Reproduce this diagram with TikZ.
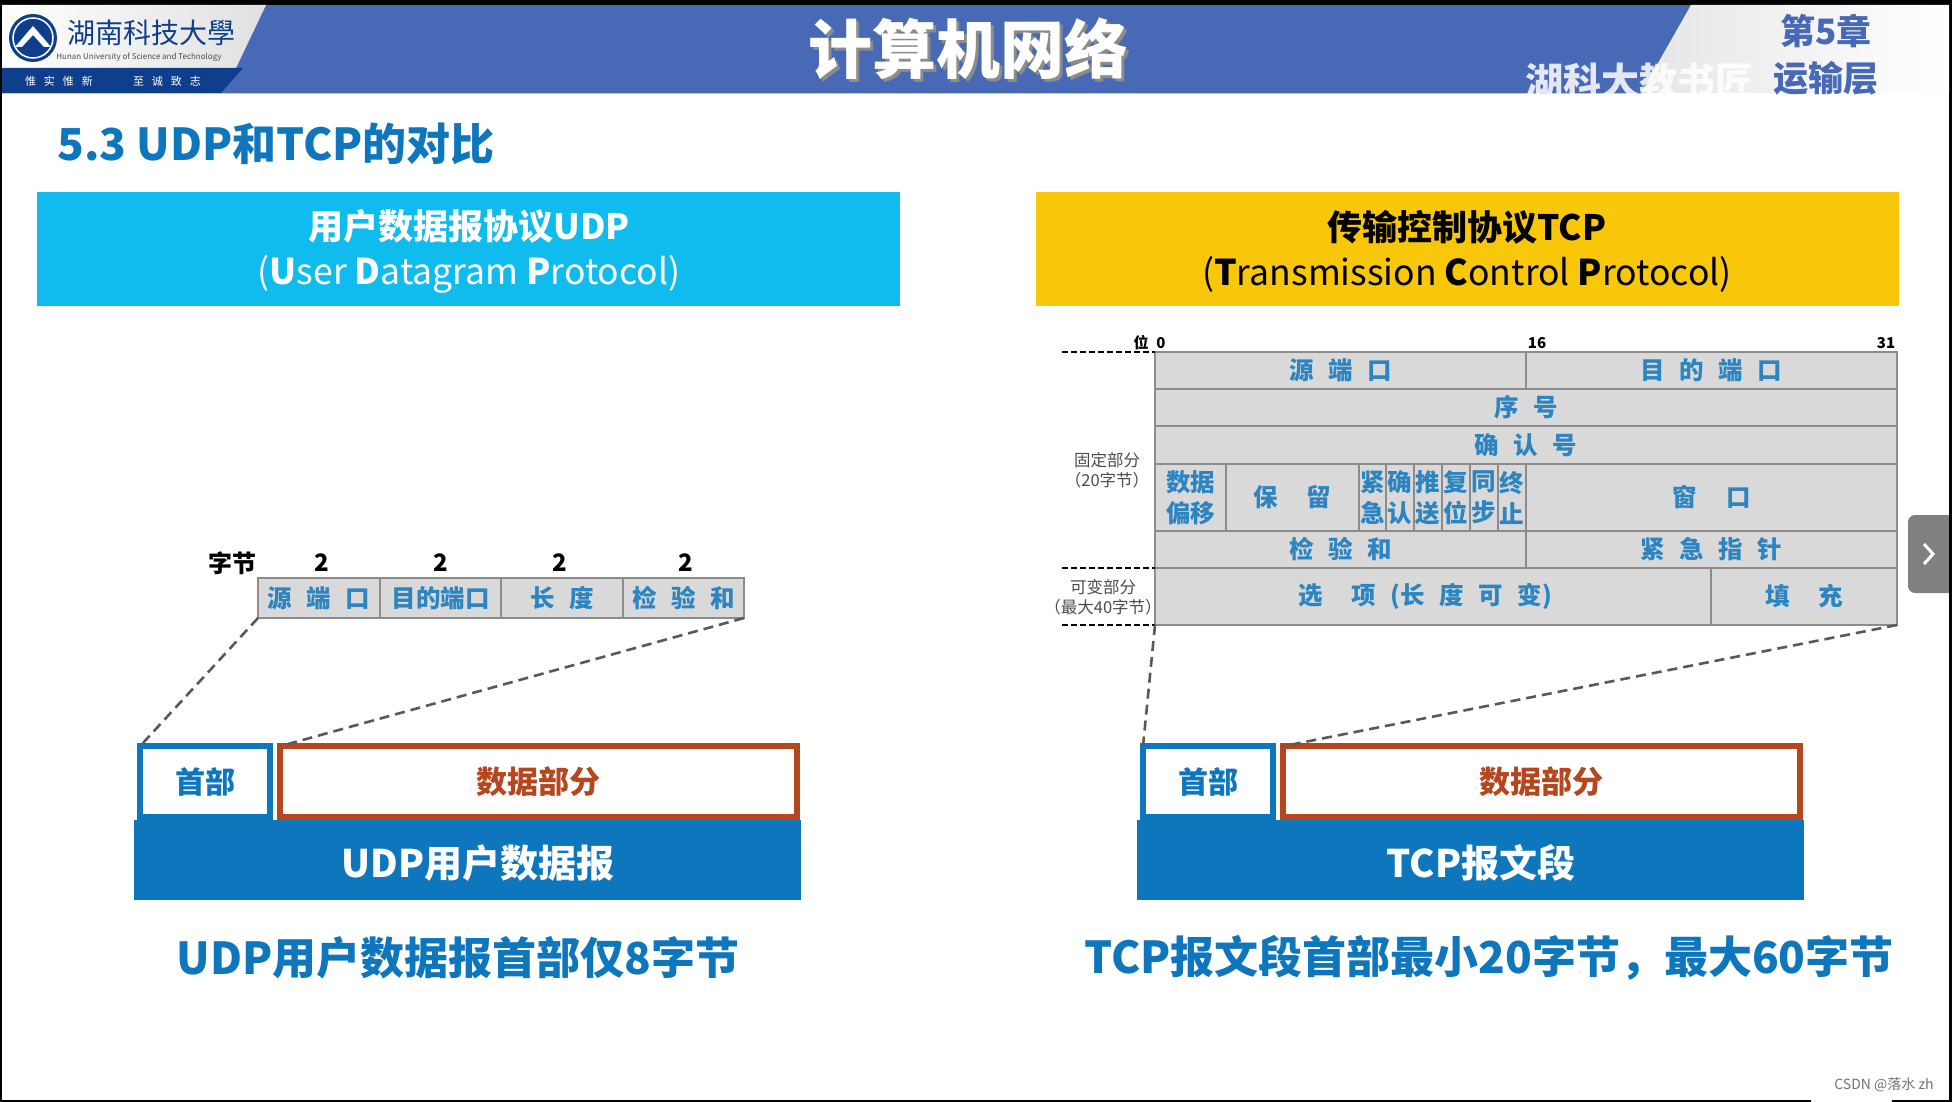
\documentclass[tikz,border=0pt]{standalone}
\usepackage{fontspec}
\usepackage{xcolor}
\setmainfont{Noto Sans CJK SC}
\usetikzlibrary{positioning,calc}
\definecolor{barblue}{HTML}{4769B6}
\definecolor{darkblue}{HTML}{0F3F8C}
\definecolor{textblue}{HTML}{0E76BC}
\definecolor{skyblue}{HTML}{10BCEE}
\definecolor{goldbar}{HTML}{F8C70A}
\definecolor{rustred}{HTML}{B5461E}
\definecolor{cellgray}{HTML}{D9D9D9}
\definecolor{cellline}{HTML}{8C8C8C}
\definecolor{dashgray}{HTML}{595959}
\newcommand{\fsize}[2]{\fontsize{#1}{#2}\selectfont}
\newcommand{\gapa}{\hspace{14.5pt}}
\newcommand{\gapb}{\hspace{29pt}}

\begin{document}
\begin{tikzpicture}[x=1pt,y=-1pt,
        cell/.style={rectangle,draw=cellline,fill=cellgray,line width=1.2pt,
          inner sep=0pt,outer sep=0pt,text=textblue!85!cellgray,align=center,
          font=\fsize{24.5}{31}\bfseries},
        titlebar/.style={rectangle,inner sep=0pt,outer sep=0pt,
          minimum width=863pt,minimum height=114pt},
        titletext/.style={inner sep=0pt,align=center,font=\fsize{35.5}{45}},
        headbox/.style={rectangle,draw=textblue,fill=white,line width=6pt,
          inner sep=0pt,outer sep=0pt,minimum width=130pt,minimum height=71pt,
          text=textblue,font=\fsize{30}{30}\bfseries},
        databox/.style={rectangle,draw=rustred,fill=white,line width=6pt,
          inner sep=0pt,outer sep=0pt,minimum width=516.5pt,minimum height=71pt,
          text=rustred,font=\fsize{31}{31}\bfseries},
        pdubar/.style={rectangle,fill=textblue,inner sep=0pt,outer sep=0pt,
          minimum width=667pt,minimum height=80pt},
        pdutext/.style={inner sep=0pt,text=white,font=\fsize{38}{38}\bfseries},
        caption/.style={text=textblue,inner sep=0pt,font=\fsize{44}{44}\bfseries},
        sidelabel/.style={inner sep=0pt,text=black!70,align=center,font=\fsize{16.5}{20}},
        bitlabel/.style={inner sep=0pt,font=\fsize{15}{15}\bfseries},
        bytelabel/.style={inner sep=0pt,font=\fsize{24}{24}\bfseries},
        zoomline/.style={draw=dashgray,line width=2.6pt,dash pattern=on 10pt off 6pt},
        partline/.style={draw=black,line width=2.2pt,dash pattern=on 6pt off 3pt}]
      \useasboundingbox (0,0) rectangle (1952,1102);
      \fill[white] (0,0) rectangle (1952,1102);
      \fill[black] (0,0) rectangle (1952,5);
      \fill[black] (0,0) rectangle (2,1102);
      \fill[black] (1949,0) rectangle (1952,1102);
      \fill[black] (0,1100) rectangle (1952,1102);
      \fill[white,rounded corners=10pt] (1811,1083) rectangle (1892,1110);

      \fill[barblue] (221,5) rectangle (1700,93);
      \draw[skyblue!50,line width=1pt] (2,93.5) -- (1641,93.5);
      \path[left color=white,right color=black!12] (2,5) -- (266,5) -- (236,68) -- (2,68) -- cycle;
      \fill[darkblue] (2,68) -- (243,68) -- (221,93) -- (2,93) -- cycle;
      \path[left color=black!10,right color=white] (1691,5) -- (1949,5) -- (1949,93) -- (1641,93) -- cycle;

      \fill[darkblue] (33,38) circle (24);
      \draw[white,line width=1.5pt] (33,38) circle (20);
      \fill[white] (15,47) -- (33,26) -- (51,47) -- (44,47) -- (33,35) -- (22,47) -- cycle;
      \node at (151,33) [inner sep=0pt,text=darkblue,font=\fsize{28}{28}] (schoolname) {湖南科技大學};
      \node at (139,57) [inner sep=0pt,text=black!70,font=\fsize{8}{10}] (schoolen) {Hunan University of Science and Technology};
      \node at (59,81) [inner sep=0pt,text=white,font=\fsize{11}{11}] (mottoa) {惟\hspace{8pt}实\hspace{8pt}惟\hspace{8pt}新};
      \node at (167,81) [inner sep=0pt,text=white,font=\fsize{11}{11}] (mottob) {至\hspace{8pt}诚\hspace{8pt}致\hspace{8pt}志};

      \node at (971,52) [inner sep=0pt,text=black!45,font=\fsize{64}{64}\bfseries] (courseshadow) {计算机网络};
      \node at (968,49) [inner sep=0pt,text=white,font=\fsize{64}{64}\bfseries] (course) {计算机网络};
      \node at (1826,31) [inner sep=0pt,text=barblue,font=\fsize{35}{35}\bfseries] (chapter) {第5章};
      \node at (1826,78) [inner sep=0pt,text=barblue,font=\fsize{35}{35}\bfseries] (layer) {运输层};
      \node at (1639,81) [inner sep=0pt,text=white,opacity=0.85,font=\fsize{38}{38}\bfseries] (mark) {湖科大教书匠};

      \node at (276,144) [inner sep=0pt,text=textblue,font=\fsize{44}{44}\bfseries] (heading) {5.3 UDP和TCP的对比};

      \node at (468.5,249) [titlebar,fill=skyblue] (udptitle) {};
      \node at (1467.5,249) [titlebar,fill=goldbar] (tcptitle) {};
      \node at (469,251) [titletext,text=white] (udptitletext) {{\fsize{35}{45}\bfseries 用户数据报协议UDP}\\(\textbf{U}ser \textbf{D}atagram \textbf{P}rotocol)};
      \node at (1467,251) [titletext,text=black] (tcptitletext) {{\fsize{35}{45}\bfseries 传输控制协议TCP}\\(\textbf{T}ransmission \textbf{C}ontrol \textbf{P}rotocol)};

      \node at (232,563) [bytelabel] (udpbyte) {字节};
      \node at (322,563) [bytelabel] (udpbytea) {2};
      \node at (440.5,563) [bytelabel] (udpbyteb) {2};
      \node at (560,563) [bytelabel] (udpbytec) {2};
      \node at (686,563) [bytelabel] (udpbyted) {2};
      \node at (319,598) [cell,minimum width=122pt,minimum height=40pt] (udpsrc) {源\gapa 端\gapa 口};
      \node at (440.5,598) [cell,minimum width=121pt,minimum height=40pt] (udpdst) {目的端口};
      \node at (562,598) [cell,minimum width=122pt,minimum height=40pt] (udplen) {长\gapa 度};
      \node at (683.5,598) [cell,minimum width=121pt,minimum height=40pt] (udpsum) {检\gapa 验\gapa 和};

      \node at (205,781.75) [headbox] (udphead) {首部};
      \node at (538.25,781.75) [databox] (udpdata) {数据部分};
      \node at (467,860) [pdubar] (udpbar) {};
      \node at (478,863) [pdutext] (udpbartext) {UDP用户数据报};
      \node at (458,958) [caption] (udpnote) {UDP用户数据报首部仅8字节};
      \draw[zoomline] (udpsrc.south west) -- (udphead.north west);
      \draw[zoomline] (udpsum.south east) -- (udpdata.north west);

      \node at (1141,343) [bitlabel] (bitname) {位};
      \node at (1161,343) [bitlabel] (bitzero) {0};
      \node at (1537,343) [bitlabel] (bitmid) {16};
      \node at (1886,343) [bitlabel] (bitend) {31};

      \node at (1340.5,370.5) [cell,minimum width=371pt,minimum height=37pt] (tcpsrc) {源\gapa 端\gapa 口};
      \node at (1711.5,370.5) [cell,minimum width=371pt,minimum height=37pt] (tcpdst) {目\gapa 的\gapa 端\gapa 口};
      \node at (1526,407.5) [cell,minimum width=742pt,minimum height=37pt] (tcpseq) {序\gapa 号};
      \node at (1526,445) [cell,minimum width=742pt,minimum height=38pt] (tcpack) {确\gapa 认\gapa 号};
      \node at (1190.5,497.5) [cell,minimum width=71pt,minimum height=67pt] (tcpoff) {数据\\偏移};
      \node at (1292.5,497.5) [cell,minimum width=133pt,minimum height=67pt] (tcpres) {保\gapb 留};
      \node at (1372.5,497.5) [cell,minimum width=27pt,minimum height=67pt] (tcpurg) {紧\\急};
      \node at (1400,497.5) [cell,minimum width=28pt,minimum height=67pt] (tcpconf) {确\\认};
      \node at (1428,497.5) [cell,minimum width=28pt,minimum height=67pt] (tcppsh) {推\\送};
      \node at (1456,497.5) [cell,minimum width=28pt,minimum height=67pt] (tcprst) {复\\位};
      \node at (1484,497.5) [cell,minimum width=28pt,minimum height=67pt] (tcpsyn) {同\\步};
      \node at (1512,497.5) [cell,minimum width=28pt,minimum height=67pt] (tcpfin) {终\\止};
      \node at (1711.5,497.5) [cell,minimum width=371pt,minimum height=67pt] (tcpwin) {窗\gapb 口};
      \node at (1340.5,549.5) [cell,minimum width=371pt,minimum height=37pt] (tcpsum) {检\gapa 验\gapa 和};
      \node at (1711.5,549.5) [cell,minimum width=371pt,minimum height=37pt] (tcpptr) {紧\gapa 急\gapa 指\gapa 针};
      \node at (1433,596.5) [cell,minimum width=556pt,minimum height=57pt] (tcpopt) {\hspace{-16pt}选\gapb 项\gapa (长\gapa 度\gapa 可\gapa 变)};
      \node at (1804,596.5) [cell,minimum width=186pt,minimum height=57pt] (tcppad) {填\gapb 充};

      \coordinate (fixedtop) at (1062,352);
      \coordinate (varytop) at (1062,568);
      \coordinate (varyend) at (1062,625);
      \draw[partline] (fixedtop) -- (tcpsrc.north west);
      \draw[partline] (varytop) -- (tcpopt.north west);
      \draw[partline] (varyend) -- (tcpopt.south west);
      \node at (1107,470) [sidelabel] (fixedlabel) {固定部分\\（20字节）};
      \node at (1103,597) [sidelabel] (varylabel) {可变部分\\（最大40字节）};

      \node at (1208,781.75) [headbox] (tcphead) {首部};
      \node at (1541.25,781.75) [databox] (tcpdata) {数据部分};
      \node at (1470.5,860) [pdubar] (tcpbar) {};
      \node at (1481,863) [pdutext] (tcpbartext) {TCP报文段};
      \node at (1489,958) [caption] (tcpnote) {TCP报文段首部最小20字节，最大60字节};
      \draw[zoomline] (tcpopt.south west) -- (tcphead.north west);
      \draw[zoomline] (tcppad.south east) -- (tcpdata.north west);

      \fill[black!50,rounded corners=7pt] (1908,515) rectangle (1965,593);
      \fill[black] (1949,510) rectangle (1952,600);
      \draw[white,line width=3pt] (1924,544) -- (1933,554) -- (1924,564);
      \node at (1884,1085) [inner sep=0pt,text=black!55,font=\fsize{14}{14}] (csdn) {CSDN @落水 zh};
    \end{tikzpicture}
\end{document}
